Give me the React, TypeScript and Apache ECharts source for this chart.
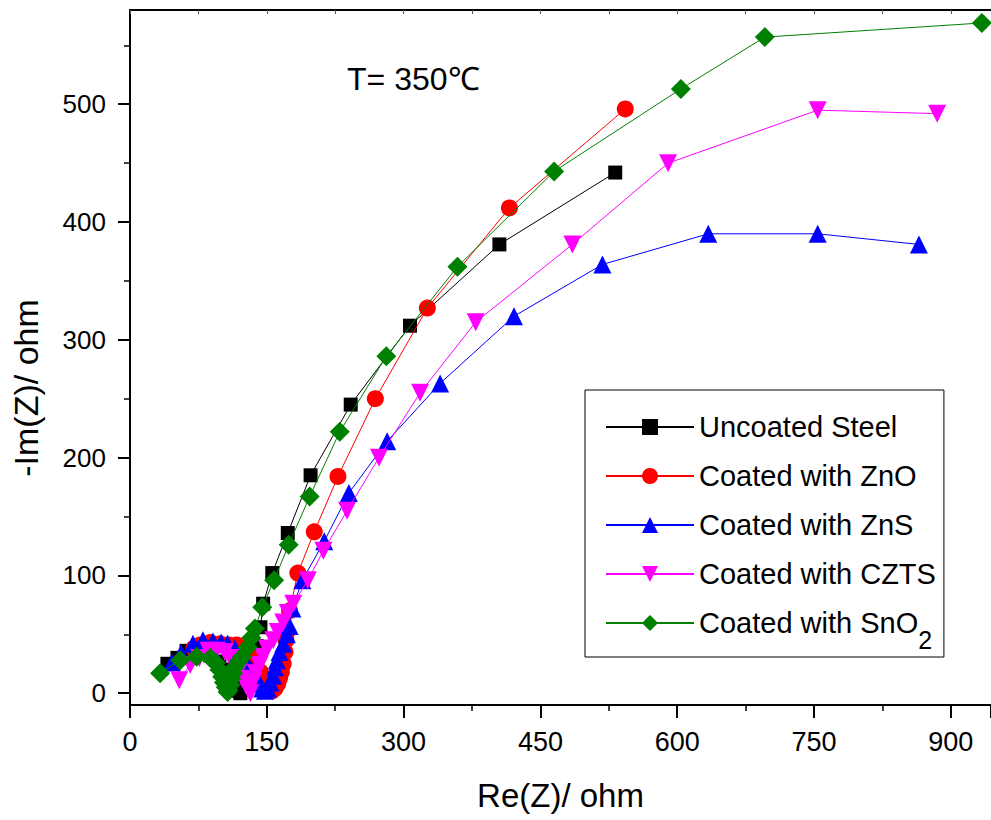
import React, { useEffect, useRef } from 'react';
import * as echarts from 'echarts';

const FONT = '"Liberation Sans", Arial, Helvetica, sans-serif';

const seriesNames = [
  'Uncoated Steel',
  'Coated with ZnO',
  'Coated with ZnS',
  'Coated with CZTS',
  'Coated with SnO2',
];

const uncoatedSteel = [
  [41, 25], [52, 30], [62, 36], [75, 35], [88, 32], [98, 27], [105, 20], [110, 13],
  [114, 7], [118, 2], [121, 0], [125, 3], [129, 10], [133, 20], [136, 30], [139, 40],
  [143, 56], [146, 76], [156, 102], [173, 136], [198, 185], [242, 245], [307, 312],
  [405, 381], [532, 442],
];

const coatedZnO = [
  [70, 38], [77, 41], [88, 43], [99, 42], [108, 41], [117, 41], [125, 38], [132, 32],
  [138, 25], [143, 18], [147, 11], [150, 6], [153, 3], [156, 2], [159, 4], [162, 8],
  [164, 13], [166, 18], [168, 25], [170, 35], [171, 45], [172, 52], [175, 70], [184, 102],
  [202, 137], [228, 184], [269, 250], [326, 327], [416, 412], [543, 496],
];

const coatedZnS = [
  [46, 26], [56, 34], [69, 42], [80, 45], [91, 44], [100, 43], [107, 42], [115, 38],
  [122, 32], [128, 26], [133, 20], [138, 14], [142, 8], [145, 4], [148, 2], [151, 4],
  [154, 9], [157, 15], [159, 22], [161, 28], [164, 35], [168, 42], [172, 50], [175, 57],
  [178, 72], [189, 96], [213, 129], [240, 170], [282, 214], [340, 263], [421, 320],
  [518, 364], [634, 390], [754, 390], [865, 381],
];

const coatedCZTS = [
  [54, 11], [66, 24], [76, 30], [86, 36], [95, 36], [104, 35], [110, 30], [115, 24],
  [119, 18], [123, 12], [127, 7], [130, 3], [132, 0], [135, 10], [138, 17], [142, 24],
  [146, 31], [150, 38], [157, 45], [162, 52], [168, 60], [173, 68], [179, 76], [195, 96],
  [212, 121], [238, 155], [273, 200], [318, 255], [379, 315], [485, 381], [590, 450],
  [754, 495], [885, 492],
];

const coatedSnO2 = [
  [33, 17], [55, 28], [73, 31], [88, 30], [94, 26], [98, 20], [101, 14], [103, 9],
  [105, 5], [107, 1], [108, 3], [110, 7], [111, 12], [113, 17], [115, 22], [119, 27],
  [123, 31], [129, 39], [133, 47], [137, 55], [145, 73], [158, 96], [174, 126],
  [197, 167], [230, 222], [281, 286], [359, 362], [465, 443], [604, 513], [696, 557],
  [934, 569],
];

const yTickValues = [0, 100, 200, 300, 400, 500];
const yMinorTickValues = [50, 150, 250, 350, 450, 550];

const seriesColors = ['#000000', '#ff0000', '#0000ff', '#ff00ff', '#008000'];
const seriesSymbols = ['rect', 'circle', 'triangle', 'triangle', 'diamond'];
const seriesSymbolRotate = [0, 0, 0, 180, 0];
const seriesSymbolSize = [14, 17, 18, 18, 20];

export default function App() {
  const ref = useRef<HTMLDivElement>(null);

  useEffect(() => {
    document.body.style.margin = '0';
    const chart = echarts.init(ref.current!, null, { renderer: 'svg' });
    const datasets = [uncoatedSteel, coatedZnO, coatedZnS, coatedCZTS, coatedSnO2];

    const axisLineStyle = { color: '#000', width: 2 };

    chart.setOption({
      animation: false,
      backgroundColor: '#fff',
      textStyle: { fontFamily: FONT },
      grid: { left: 130, right: 0, top: 10, bottom: 115, containLabel: false, outerBoundsMode: 'none' },
      xAxis: [
        {
          type: 'value',
          position: 'bottom',
          min: 0,
          max: 944,
          interval: 150,
          axisLine: { show: true, onZero: false, lineStyle: axisLineStyle },
          axisTick: { show: true, inside: false, length: 13, lineStyle: { color: '#000', width: 2 } },
          minorTick: { show: true, splitNumber: 2, length: 6, lineStyle: { color: '#000', width: 1.5 } },
          axisLabel: { fontSize: 27, color: '#000', margin: 23, showMaxLabel: false, fontFamily: FONT },
          splitLine: { show: false },
          minorSplitLine: { show: false },
          name: 'Re(Z)/ ohm',
          nameLocation: 'middle',
          nameGap: 74,
          nameTextStyle: { fontSize: 33, color: '#000', fontFamily: FONT },
        },
        {
          type: 'value',
          position: 'top',
          min: 0,
          max: 944,
          interval: 75,
          axisLine: { show: true, onZero: false, lineStyle: axisLineStyle },
          axisTick: { show: true, inside: true, length: 4, lineStyle: { color: '#555', width: 1 } },
          axisLabel: { show: false },
          splitLine: { show: false },
        },
      ],
      yAxis: [
        {
          type: 'value',
          position: 'left',
          min: -10,
          max: 580,
          axisLine: { show: true, onZero: false, lineStyle: axisLineStyle },
          axisTick: { show: true, inside: false, length: 12, customValues: yTickValues, lineStyle: { color: '#000', width: 2 } },
          axisLabel: { customValues: yTickValues, fontSize: 26, color: '#000', margin: 24, fontFamily: FONT },
          splitLine: { show: false },
        },
        {
          type: 'value',
          position: 'left',
          min: -10,
          max: 580,
          axisLine: { show: false, onZero: false },
          axisTick: { show: true, inside: false, length: 6, customValues: yMinorTickValues, lineStyle: { color: '#000', width: 1.5 } },
          axisLabel: { show: false },
          splitLine: { show: false },
        },
      ],
      legend: {
        data: seriesNames,
        orient: 'vertical',
        left: 585,
        top: 390,
        itemWidth: 88,
        itemHeight: 20,
        itemGap: -10,
        padding: [7.5, 8, 4.5, 20],
        borderColor: '#000',
        borderWidth: 1,
        backgroundColor: '#fff',
        selectedMode: false,
        textStyle: {
          fontSize: 29,
          color: '#000',
          lineHeight: 59,
          fontFamily: FONT,
          rich: {
            a: { fontSize: 29, lineHeight: 59, color: '#000', fontFamily: FONT },
            s: { fontSize: 25, lineHeight: 25, color: '#000', verticalAlign: 'bottom', fontFamily: FONT },
          },
        },
        formatter: (name: string) =>
          name === 'Coated with SnO2' ? '{a|Coated with SnO}{s|2}' : '{a|' + name + '}',
      },
      graphic: [
        {
          type: 'text',
          x: 26,
          y: 388,
          rotation: Math.PI / 2,
          style: {
            text: '-Im(Z)/ ohm',
            fontSize: 34,
            fill: '#000',
            fontFamily: FONT,
            textAlign: 'center',
            textVerticalAlign: 'middle',
          },
        },
        {
          type: 'text',
          x: 347,
          y: 79,
          style: {
            text: 'T= 350℃',
            fontSize: 32,
            fill: '#000',
            fontFamily: FONT,
            textAlign: 'left',
            textVerticalAlign: 'middle',
          },
        },
      ],
      series: seriesNames.map((name, i) => ({
        name,
        type: 'line',
        xAxisIndex: 0,
        yAxisIndex: 0,
        data: datasets[i],
        symbol: seriesSymbols[i],
        symbolRotate: seriesSymbolRotate[i],
        symbolSize: seriesSymbolSize[i],
        showAllSymbol: true,
        color: seriesColors[i],
        itemStyle: { color: seriesColors[i] },
        lineStyle: { color: seriesColors[i], width: 1 },
        z: 2 + i,
      })),
    });

    return () => chart.dispose();
  }, []);

  return <div ref={ref} style={{ width: 991, height: 820 }} />;
}
